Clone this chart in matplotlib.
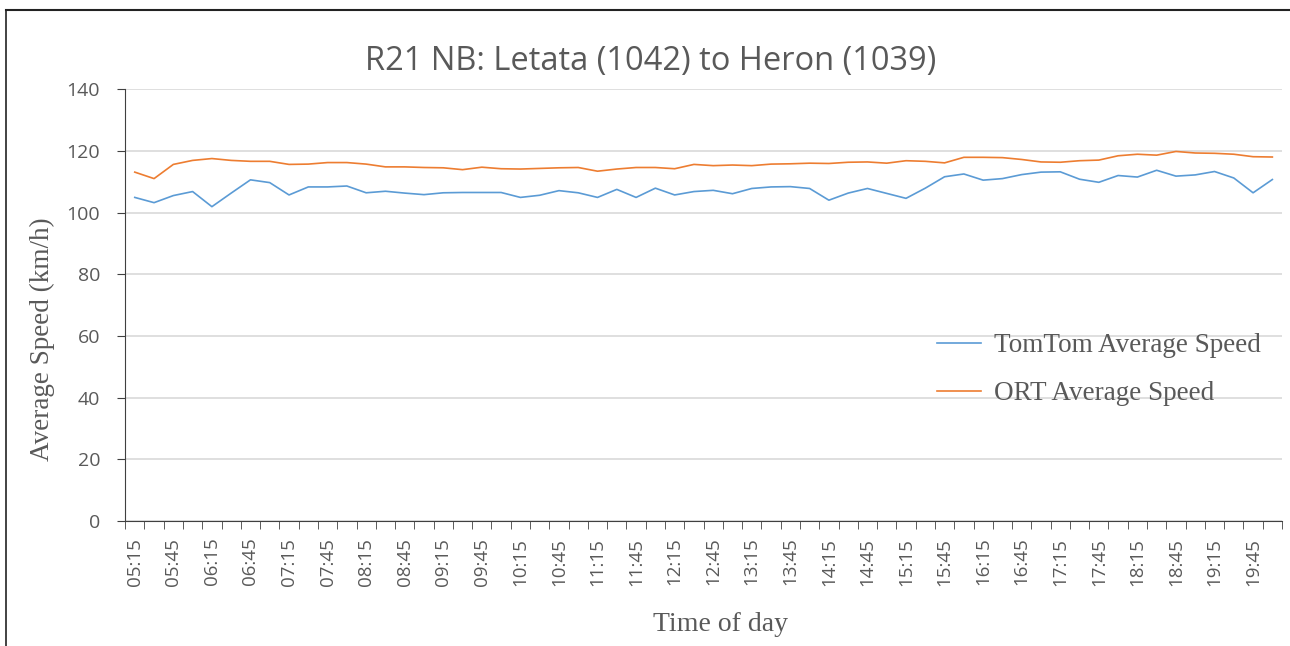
import numpy as np
import matplotlib.pyplot as plt
from matplotlib.lines import Line2D

# 15-minute slots from 05:15 to 20:00
times = [f"{h:02d}:{m:02d}" for h in range(5, 21) for m in (0, 15, 30, 45)]
times = times[1:61]

tomtom = [104.9, 103.2, 105.5, 106.8, 101.9, 106.3, 110.6, 109.7, 105.7, 108.3,
          108.3, 108.6, 106.4, 106.9, 106.3, 105.8, 106.4, 106.5, 106.5, 106.5,
          104.9, 105.6, 107.1, 106.4, 104.9, 107.5, 104.9, 107.9, 105.7, 106.8,
          107.2, 106.1, 107.8, 108.3, 108.4, 107.8, 104.0, 106.3, 107.8, 106.2,
          104.6, 107.9, 111.6, 112.5, 110.5, 111.0, 112.3, 113.1, 113.2, 110.8,
          109.8, 112.0, 111.5, 113.7, 111.8, 112.2, 113.3, 111.2, 106.4, 110.7]

ort = [113.1, 111.0, 115.6, 116.9, 117.5, 116.9, 116.6, 116.6, 115.6, 115.7,
       116.2, 116.2, 115.7, 114.8, 114.8, 114.6, 114.5, 113.9, 114.7, 114.2,
       114.1, 114.3, 114.5, 114.6, 113.4, 114.1, 114.6, 114.6, 114.2, 115.6,
       115.2, 115.4, 115.2, 115.7, 115.8, 116.0, 115.9, 116.3, 116.4, 116.0,
       116.8, 116.6, 116.1, 117.9, 117.9, 117.8, 117.2, 116.4, 116.3, 116.8,
       117.0, 118.4, 118.9, 118.6, 119.8, 119.3, 119.2, 118.9, 118.1, 118.0]

grey = "#595959"
serif = "Liberation Serif"
sans = "Open Sans"

fig = plt.figure(figsize=(12.9, 6.46), dpi=100)
ax = fig.add_axes([0.097, 0.1935, 0.8968, 0.6685])

x = np.arange(len(times))
ax.plot(x, tomtom, color="#5b9bd5", lw=1.2, label="TomTom Average Speed")
ax.plot(x, ort, color="#ed7d31", lw=1.2, label="ORT Average Speed")

ax.set_xlim(-0.5, len(times) - 0.5)
ax.set_ylim(0, 140)
ax.set_yticks(range(0, 141, 20))
ax.grid(axis="y", color="#d9d9d9", lw=1.2)
ax.set_axisbelow(True)

ax.set_xticks(x[::2])
ax.set_xticklabels(times[::2], rotation=90, fontsize=13.5, color=grey, family=sans)
ax.set_xticks(np.arange(-0.5, len(times), 1), minor=True)
ax.tick_params(axis="x", which="major", length=0, pad=12)
ax.tick_params(axis="x", which="minor", length=6, color="#404040", direction="out")
ax.tick_params(axis="y", length=6, color="#404040", labelsize=14, labelcolor=grey, pad=12)
for lab in ax.get_yticklabels():
    lab.set_family(sans)

for s in ("top", "right"):
    ax.spines[s].set_visible(False)
ax.spines["left"].set_color("#404040")
ax.spines["bottom"].set_color("#404040")

ax.set_title("R21 NB: Letata (1042) to Heron (1039)", fontsize=23.5, color=grey,
             family=sans, pad=14, x=0.454)
ax.set_ylabel("Average Speed (km/h)", fontsize=19.5, color=grey, family=serif)
ax.yaxis.set_label_coords(-0.061, 0.42)
ax.set_xlabel("Time of day", fontsize=20, color=grey, family=serif)
ax.xaxis.set_label_coords(0.515, -0.21)

ax.legend(loc="center right", bbox_to_anchor=(1.003, 0.35), frameon=False,
          prop={"family": serif, "size": 19.5}, labelcolor=grey,
          handlelength=1.6, labelspacing=0.85, handletextpad=0.5)

# outer chart border
fig.add_artist(Line2D([0.005, 1.0], [0.985, 0.985], color="#222222", lw=1.5,
                      transform=fig.transFigure))
fig.add_artist(Line2D([0.005, 0.005], [0.0, 0.985], color="#222222", lw=1.2,
                      transform=fig.transFigure))

fig.savefig("out.png", dpi=100)
